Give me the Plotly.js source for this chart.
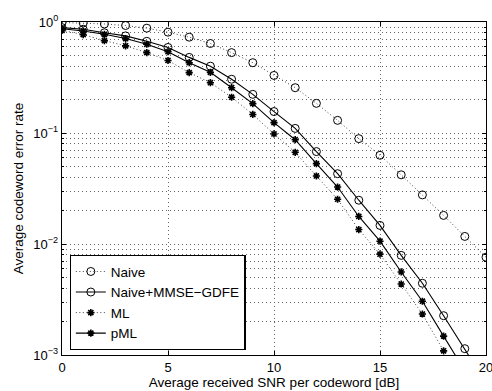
<!DOCTYPE html>
<html>
<head>
<meta charset="utf-8">
<script src="https://cdn.plot.ly/plotly-3.0.1.min.js"></script>
<style>
  html, body { margin: 0; padding: 0; background: #fff; }
  #chart { width: 492px; height: 391px; }
</style>
</head>
<body>
<div id="chart"></div>
<script>
// Average received SNR per codeword [dB]
const snr = [0, 1, 2, 3, 4, 5, 6, 7, 8, 9, 10, 11, 12, 13, 14, 15, 16, 17, 18, 19, 20];

// Average codeword error rate per receiver
const naive = [0.99, 0.98, 0.96, 0.93, 0.88, 0.81, 0.73, 0.64, 0.53, 0.43, 0.33,
               0.256, 0.185, 0.13, 0.089, 0.063, 0.042, 0.0277, 0.0181, 0.0117, 0.0076];
const naiveMmse = [0.89, 0.86, 0.80, 0.75, 0.67, 0.59, 0.48, 0.40, 0.305, 0.223, 0.156,
                   0.11, 0.068, 0.043, 0.0248, 0.0147, 0.0079, 0.00443, 0.00226, 0.00114, 0.00056];
const ml = [0.84, 0.77, 0.68, 0.61, 0.53, 0.45, 0.35, 0.284, 0.21, 0.147, 0.098,
            0.067, 0.041, 0.0253, 0.0135, 0.0081, 0.00436, 0.00234, 0.00109, 0.00052];
const pml = [0.87, 0.83, 0.775, 0.71, 0.63, 0.54, 0.43, 0.352, 0.256, 0.184, 0.124,
             0.087, 0.053, 0.0326, 0.0177, 0.0106, 0.0056, 0.00305, 0.00148, 0.00072];

const seriesNames = ['Naive', 'Naive+MMSE\u2212GDFE', 'ML', 'pML'];

const yTickVals = [0.001, 0.01, 0.1, 1];
const yTickText = ['10<sup>\u22123</sup>', '10<sup>\u22122</sup>', '10<sup>\u22121</sup>', '10<sup>0</sup>'];
const xTickVals = [0, 5, 10, 15, 20];

// minor decade subdivisions 2..9 for the log grid
const yMinor = [];
for (let e = -3; e < 0; e++) {
  for (let m = 2; m <= 9; m++) yMinor.push(m * Math.pow(10, e));
}

const family = 'Liberation Sans, Arial, Helvetica, sans-serif';
const font = { family: family, size: 13, color: '#000' };
const gridDash = '1px,3px';
const gridColor = '#666';

const circle = { symbol: 'circle-open', size: 8, color: '#000', line: { color: '#000', width: 1 } };
const star = { symbol: 'asterisk-open', size: 6, color: '#000', line: { color: '#000', width: 1.6 } };

const traces = [
  { x: snr, y: naive, name: seriesNames[0], mode: 'lines+markers',
    line: { color: '#444', width: 1, dash: '1px,2.5px' }, marker: circle },
  { x: snr, y: naiveMmse, name: seriesNames[1], mode: 'lines+markers',
    line: { color: '#000', width: 1.1 }, marker: circle },
  { x: snr.slice(0, ml.length), y: ml, name: seriesNames[2], mode: 'lines+markers',
    line: { color: '#444', width: 1, dash: '1px,2.5px' }, marker: star },
  { x: snr.slice(0, pml.length), y: pml, name: seriesNames[3], mode: 'lines+markers',
    line: { color: '#000', width: 1.1 }, marker: star }
];

const layout = {
  width: 492,
  height: 391,
  margin: { l: 62, r: 6, t: 22, b: 36 },
  paper_bgcolor: '#fff',
  plot_bgcolor: '#fff',
  font: font,
  showlegend: true,
  legend: {
    x: 0.018, y: 0.015, xanchor: 'left', yanchor: 'bottom',
    bgcolor: '#fff', bordercolor: '#000', borderwidth: 1.2,
    font: { family: family, size: 13.5, color: '#000' },
    tracegroupgap: 0
  },
  xaxis: {
    range: [0, 20],
    tickmode: 'array',
    tickvals: xTickVals,
    ticks: 'inside', ticklen: 4, tickcolor: '#000',
    ticklabeloverflow: 'allow',
    showline: true, linecolor: '#000', linewidth: 1.2, mirror: 'ticks',
    showgrid: true, gridcolor: gridColor, griddash: gridDash, gridwidth: 1,
    zeroline: false,
    tickfont: { family: family, size: 13, color: '#000' },
    title: { text: 'Average received SNR per codeword [dB]', standoff: 1,
             font: { family: family, size: 13.5, color: '#000' } }
  },
  yaxis: {
    type: 'log',
    range: [-3, 0],
    tickmode: 'array',
    tickvals: yTickVals,
    ticktext: yTickText,
    ticks: 'inside', ticklen: 4, tickcolor: '#000',
    showline: true, linecolor: '#000', linewidth: 1.2, mirror: 'ticks',
    showgrid: true, gridcolor: gridColor, griddash: gridDash, gridwidth: 1,
    zeroline: false,
    tickfont: { family: family, size: 13, color: '#000' },
    minor: {
      tickmode: 'array', tickvals: yMinor,
      ticks: 'inside', ticklen: 2, tickcolor: '#000',
      showgrid: true, gridcolor: gridColor, griddash: gridDash, gridwidth: 1
    },
    title: { text: 'Average codeword error rate', standoff: 6,
             font: { family: family, size: 13.5, color: '#000' } }
  }
};

Plotly.newPlot('chart', traces, layout, { displayModeBar: false, staticPlot: true });
</script>
</body>
</html>
